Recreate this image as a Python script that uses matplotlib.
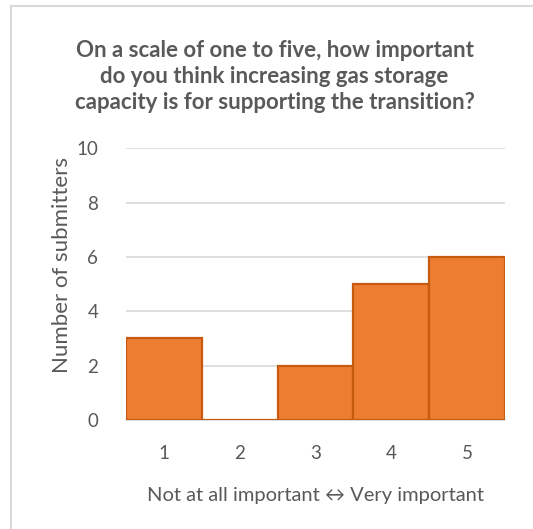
import matplotlib
matplotlib.use('Agg')
import matplotlib.pyplot as plt
from matplotlib.lines import Line2D

# Survey responses: importance score and number of submitters
scores = [1, 2, 3, 4, 5]
counts = [3, 0, 2, 5, 6]
tick_labels = ['1', '2', '3', '4', '5']

plt.rcParams['font.family'] = ['Lato', 'DejaVu Sans']

fig = plt.figure(figsize=(5.33, 5.29), dpi=100)
ax = fig.add_axes([0.2364, 0.206, 0.711, 0.514])

ax.bar(scores, counts, width=1.0, color='#ED7D31', edgecolor='#C55A11', linewidth=1.6, zorder=3)

ax.set_xlim(0.5, 5.5)
ax.set_ylim(0, 10)
ax.set_yticks(range(0, 11, 2))
ax.set_xticks(scores)
ax.set_xticklabels(tick_labels)
ax.grid(axis='y', color='#D9D9D9', linewidth=1.2, zorder=0)
ax.tick_params(length=0, labelsize=13.5, colors='#595959')
ax.tick_params(axis='x', pad=18)
ax.tick_params(axis='y', pad=20)
for side in ['top', 'right', 'left']:
    ax.spines[side].set_visible(False)
ax.spines['bottom'].set_color('#D9D9D9')
ax.spines['bottom'].set_linewidth(1.2)

ax.set_ylabel('Number of submitters', fontsize=16, color='#595959')
ax.yaxis.set_label_coords(-0.142, 0.57)
ax.set_xlabel('Not at all important \u2194 Very important', fontsize=14.5, color='#595959', labelpad=18)

fig.text(0.515, 0.855, 'On a scale of one to five, how important\n'
         'do you think increasing gas storage\n'
         'capacity is for supporting the transition?',
         ha='center', va='center', fontsize=16, fontweight='bold', color='#595959',
         linespacing=1.3)

# Chart frame
fig.add_artist(Line2D([11 / 533, 11 / 533], [0, 1 - 6 / 529], color='#D9D9D9', linewidth=1.5))
fig.add_artist(Line2D([11 / 533, 1], [1 - 6 / 529, 1 - 6 / 529], color='#D9D9D9', linewidth=1.5))

fig.savefig('out.png', dpi=100)
